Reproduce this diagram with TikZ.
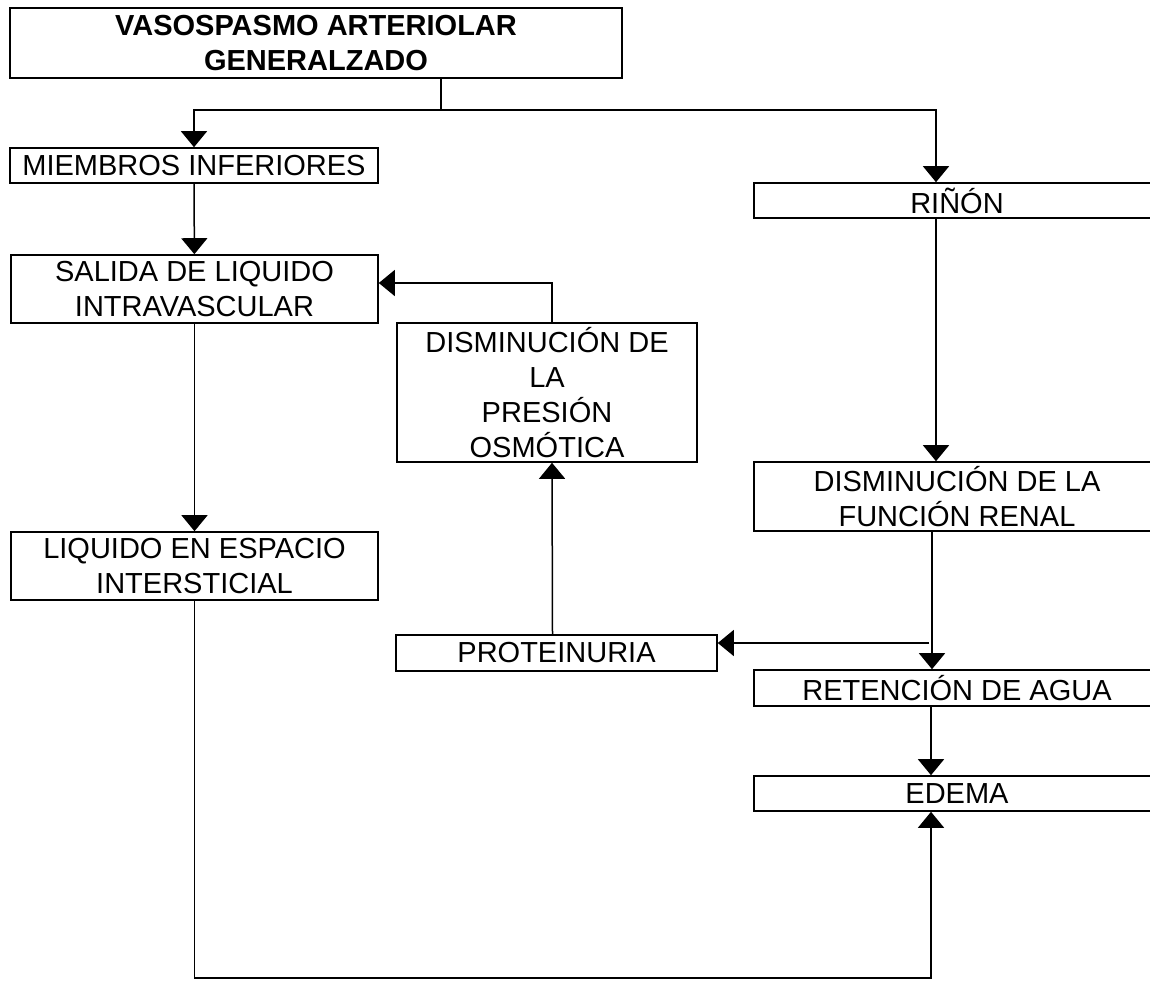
\documentclass[tikz,border=0pt]{standalone}
\usepackage{fontspec}
\setmainfont{Liberation Sans}
\usepackage{tikz}
\usetikzlibrary{arrows.meta,positioning}

\begin{document}
\begin{tikzpicture}[x=1pt,y=-1pt,
  box/.style={rectangle, draw, line width=1.6pt, inner sep=0pt, align=center,
    font=\fontsize{29pt}{35pt}\selectfont},
  arr/.style={line width=1.5pt, -{Triangle[width=26pt,length=16pt]}}]
\useasboundingbox (0,0) rectangle (1150,980);

\node [box, minimum width=612pt, minimum height=70pt, font=\fontsize{29pt}{35pt}\selectfont\bfseries] (vaso) at (316,43) {VASOSPASMO ARTERIOLAR\\GENERALZADO};

\node [box, minimum width=368pt, minimum height=35pt] (miembros) at (194,165.5) {MIEMBROS INFERIORES};
\node [box, minimum width=367pt, minimum height=68pt] (salida) at (194.5,289) {SALIDA DE LIQUIDO\\INTRAVASCULAR};
\node [box, minimum width=367pt, minimum height=68pt] (liquido) at (194.5,566) {LIQUIDO EN ESPACIO\\INTERSTICIAL};

\node [box, minimum width=300pt, minimum height=139pt] (presion) at (547,392.5) {DISMINUCI\'ON DE\\LA\\PRESI\'ON\\OSM\'OTICA};
\node [box, minimum width=321pt, minimum height=36pt] (prot) at (556.5,653) {PROTEINURIA};

\node [box, minimum width=406pt, minimum height=35pt] (rinon) at (957,200.5) {RI\~N\'ON};
\node [box, minimum width=406pt, minimum height=69pt] (funcion) at (957,496.5) {DISMINUCI\'ON DE LA\\FUNCI\'ON RENAL};
\node [box, minimum width=406pt, minimum height=36pt] (retencion) at (957,688) {RETENCI\'ON DE AGUA};
\node [box, minimum width=406pt, minimum height=35pt] (edema) at (957,793.5) {EDEMA};

% reparto desde el vasospasmo
\coordinate (split) at (441,110);
\draw [line width=1.5pt] ([xshift=125pt]vaso.south) -- (split);
\draw [arr] (split) -| (miembros.north);
\draw [arr] (split) -| ([xshift=-21pt]rinon.north);

% columna izquierda
\draw [arr] (miembros) -- (salida);
\draw [arr] (salida) -- (liquido);
\coordinate (bottom) at (931,978);
\draw [arr] (liquido.south) |- (bottom) -- ([xshift=-26pt]edema.south);

% columna derecha
\draw [arr] ([xshift=-21pt]rinon.south) -- ([xshift=-21pt]funcion.north);
\draw [arr] ([xshift=-25pt]funcion.south) -- ([xshift=-25pt]retencion.north);
\coordinate (branch) at (929,643);
\draw [arr] (branch) -- (branch -| prot.east);
\draw [arr] ([xshift=-26pt]retencion.south) -- ([xshift=-26pt]edema.north);

% proteinuria y presion osmotica
\draw [arr] ([xshift=-4pt]prot.north) -- ([xshift=5pt]presion.south);
\draw [arr] ([xshift=5pt]presion.north) |- ([yshift=6pt]salida.east);

\end{tikzpicture}
\end{document}
